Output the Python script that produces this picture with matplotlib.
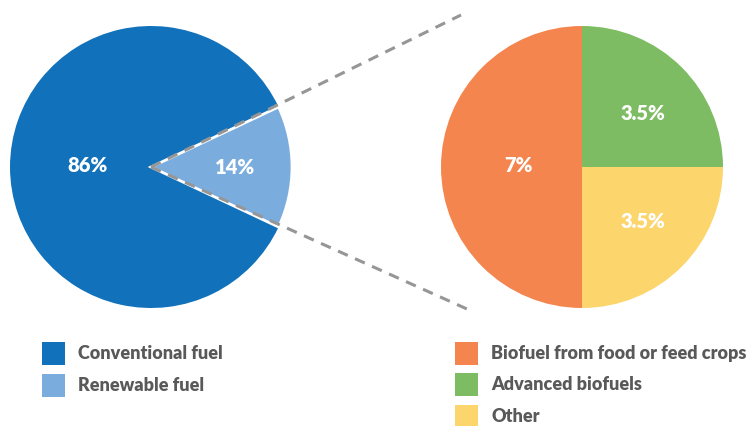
import matplotlib
matplotlib.use("Agg")
import matplotlib.pyplot as plt
from matplotlib.patches import Rectangle

main_labels = ["Conventional fuel", "Renewable fuel"]
main_values = [86, 14]
main_pct = ["86%", "14%"]
main_colors = ["#1172BB", "#7AADDD"]

sub_labels = ["Biofuel from food or feed crops", "Advanced biofuels", "Other"]
sub_values = [7, 3.5, 3.5]
sub_pct = ["7%", "3.5%", "3.5%"]
sub_colors = ["#F4854E", "#7DBC62", "#FDD56D"]

W, H = 747, 426
fig = plt.figure(figsize=(W / 100, H / 100), dpi=100)
ax = fig.add_axes([0, 0, 1, 1])

FONT = "Lato"
WEIGHT = "heavy"
TXT = "#595959"

def Y(py):
    return H - py

# left pie
c1 = (151, Y(167)); r1 = 141
ren_angle = main_values[1] / sum(main_values) * 360
wedges, _ = ax.pie(main_values, colors=main_colors, center=c1, radius=r1,
                   startangle=ren_angle / 2, counterclock=True,
                   wedgeprops=dict(linewidth=0), frame=True)
wedges[1].set_edgecolor("white")
wedges[1].set_linewidth(2)

# right pie
c2 = (582, Y(167)); r2 = 141
ax.pie(sub_values, colors=sub_colors, center=c2, radius=r2, startangle=270,
       counterclock=False, wedgeprops=dict(linewidth=0), frame=True)

ax.set_xlim(0, W)
ax.set_ylim(0, H)
ax.set_aspect("equal")
ax.axis("off")

ax.text(87, Y(166), main_pct[0], color="white", fontsize=14.5, fontweight=WEIGHT,
        family=FONT, ha="center", va="center")
ax.text(235, Y(167), main_pct[1], color="white", fontsize=14.5, fontweight=WEIGHT,
        family=FONT, ha="center", va="center")

pct_pos = [(518, 166), (643, 113), (643, 221)]
for (x, y), t in zip(pct_pos, sub_pct):
    ax.text(x, Y(y), t, color="white", fontsize=14.5, fontweight=WEIGHT,
            family=FONT, ha="center", va="center")

# dashed connector lines
for end in [(461, 15), (467, 309)]:
    ax.plot([151, end[0]], [Y(167), Y(end[1])], color="#969696", lw=2.2,
            dashes=(3.5, 2.6), dash_capstyle="butt")

# legends
def legend(x_sq, x_txt, ys, labels, colors):
    for y, lab, col in zip(ys, labels, colors):
        ax.add_patch(Rectangle((x_sq, Y(y + 23)), 23, 23, facecolor=col, edgecolor="none"))
        ax.text(x_txt, Y(y + 11.5), lab, color=TXT, fontsize=13, fontweight=WEIGHT,
                family=FONT, ha="left", va="center")

legend(42, 78, [342, 374], main_labels, main_colors)
legend(455, 491, [342, 373, 405], sub_labels, sub_colors)

fig.savefig("out.png", dpi=100)
